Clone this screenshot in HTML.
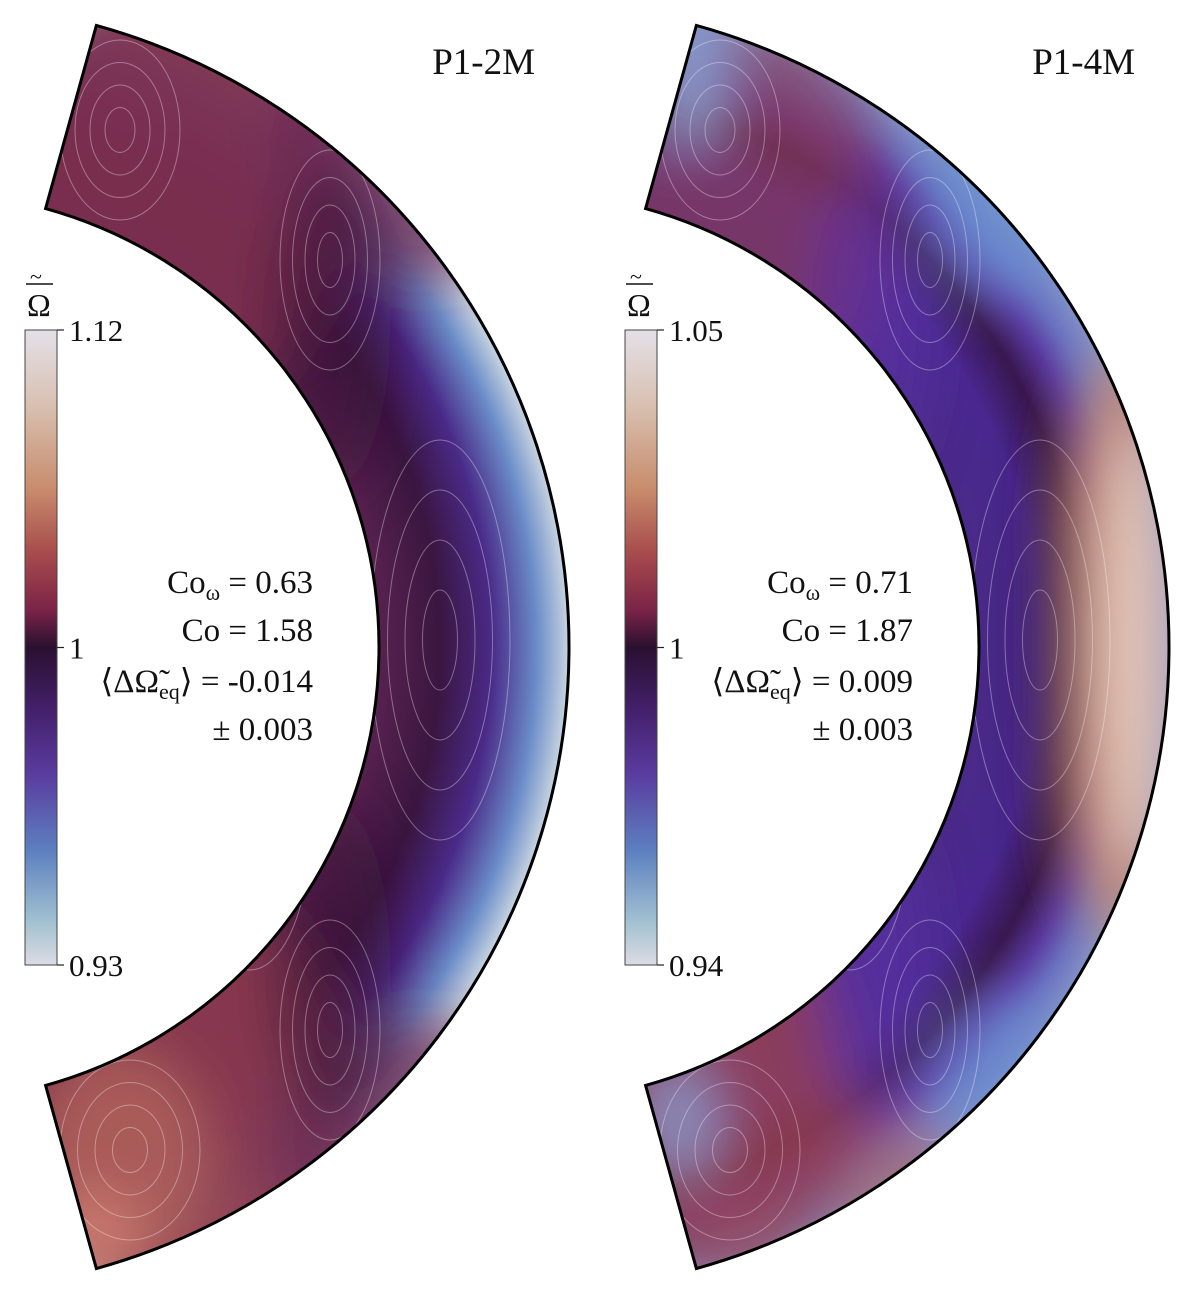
<!DOCTYPE html>
<html><head><meta charset="utf-8"><style>
html,body{margin:0;padding:0;background:#fff;width:1200px;height:1296px;overflow:hidden}
svg{display:block}
text{font-family:"Liberation Serif",serif;fill:#111}
</style></head>
<body>
<svg id="fig" width="1200" height="1296" viewBox="0 0 1200 1296" xmlns="http://www.w3.org/2000/svg">
<defs>
 <linearGradient id="cmap" x1="0" y1="0" x2="0" y2="1">
  <stop offset="0" stop-color="#e4e0e8"/><stop offset="0.12" stop-color="#d8c0b0"/>
  <stop offset="0.25" stop-color="#c88c6c"/><stop offset="0.35" stop-color="#a84c4c"/>
  <stop offset="0.44" stop-color="#7c2448"/><stop offset="0.50" stop-color="#2a1030"/>
  <stop offset="0.60" stop-color="#44206c"/><stop offset="0.70" stop-color="#5a3ca0"/>
  <stop offset="0.82" stop-color="#5c80c0"/><stop offset="0.93" stop-color="#a0c0d0"/>
  <stop offset="1" stop-color="#dcdce4"/>
 </linearGradient>
 <radialGradient id="radL" gradientUnits="userSpaceOnUse" cx="-76" cy="647" r="645">
  <stop offset="0.70" stop-color="#5a2250"/><stop offset="0.80" stop-color="#3a1640"/>
  <stop offset="0.88" stop-color="#4a2a88"/><stop offset="0.95" stop-color="#6a8cc8"/>
  <stop offset="1" stop-color="#c8d4e0"/>
 </radialGradient>
 <radialGradient id="radR" gradientUnits="userSpaceOnUse" cx="524" cy="647" r="645">
  <stop offset="0.70" stop-color="#4a2a88"/><stop offset="0.80" stop-color="#4a2890"/>
  <stop offset="0.87" stop-color="#3a1850"/><stop offset="0.92" stop-color="#5a3aa0"/>
  <stop offset="0.96" stop-color="#6a70c0"/><stop offset="1" stop-color="#8090c8"/>
 </radialGradient>
 <filter id="blur" x="-50%" y="-50%" width="200%" height="200%"><feGaussianBlur stdDeviation="26"/></filter>
 <clipPath id="clipL"><path id="cpL"/></clipPath>
 <clipPath id="clipR"><path id="cpR"/></clipPath>
</defs>
<g id="panels"></g>
</svg>
<script>
// colorbar data
const cbTicksL = [1.12, 1, 0.93];
const cbTicksR = [1.05, 1, 0.94];
const cbRangeL = [0.93, 1.12];
const cbRangeR = [0.94, 1.05];
const statsL = ["0.63", "1.58", "-0.014", "0.003"];
const statsR = ["0.71", "1.87", "0.009", "0.003"];
const titles = ["P1-2M", "P1-4M"];

const NS = "http://www.w3.org/2000/svg";
const root = document.getElementById('panels');
function mk(tag, attrs, parent){const e=document.createElementNS(NS,tag);for(const k in attrs)e.setAttribute(k,attrs[k]);(parent||root).appendChild(e);return e;}

function annulus(cx,cy,ri,ro,th){
 const c=Math.cos(th),s=Math.sin(th);
 const oT=[cx+ro*c,cy-ro*s],oB=[cx+ro*c,cy+ro*s],iT=[cx+ri*c,cy-ri*s],iB=[cx+ri*c,cy+ri*s];
 return `M${iT} L${oT} A${ro} ${ro} 0 0 1 ${oB} L${iB} A${ri} ${ri} 0 0 0 ${iT} Z`;
}

function panel(idx, dx, ticks, range, stats, grad, blobs){
 const cx=-76+dx, cy=647, ri=455, ro=645, th=74.5*Math.PI/180;
 const d=annulus(cx,cy,ri,ro,th);
 document.getElementById(idx?'cpR':'cpL').setAttribute('d',d);
 const g=mk('g',{});
 
 
 const f=mk('path',{d:d,fill:`url(#${grad})`},g);
 
 
 const bg=mk('g',{'clip-path':`url(#${idx?'clipR':'clipL'})`},g);
 const bl=mk('g',{filter:'url(#blur)'},bg);
 blobs.forEach(b=>{const e=mk('ellipse',{cx:b[0]+dx,cy:b[1],rx:b[2],ry:b[3],fill:b[4],opacity:b[5]},bl);
  });
 // streamline texture
 const sl=mk('g',{fill:'none',stroke:'#fff','stroke-width':1,opacity:0.35},bg);
 
 for(let k=0;k<7;k++){
  const e1=[[200,470,60,140],[250,830,60,140],[440,640,70,200],[120,130,60,90],[130,1150,70,90],[330,260,50,110],[330,1030,50,110]][k];
  for(let j=1;j<=4;j++) mk('ellipse',{cx:e1[0]+dx,cy:e1[1],rx:e1[2]*j/4,ry:e1[3]*j/4},sl);
 }
 const bd=mk('path',{d:d,fill:'none',stroke:'#000','stroke-width':3},g);
 
 // colorbar (two-slope norm centred at 1)
 const x0=25+dx, w=32, yT=330, yB=965, yM=(yT+yB)/2;
 const ys=v=> v>=1 ? yM-(v-1)/(range[1]-1)*(yM-yT) : yM+(1-v)/(1-range[0])*(yB-yM);
 const cb=mk('rect',{x:x0,y:yT,width:w,height:yB-yT,fill:'url(#cmap)',stroke:'#444','stroke-width':1},g);
 
 ticks.forEach(v=>{const y=ys(v);
  mk('line',{x1:x0+w,x2:x0+w+7,y1:y,y2:y,stroke:'#222','stroke-width':1.2},g);
  const t=mk('text',{x:x0+w+12,y:y+11,'font-size':31},g);t.textContent=String(v);
  });
 const ot=mk('text',{x:x0+2,y:316,'font-size':32},g);ot.textContent='Ω';
 
 mk('line',{x1:x0+1,x2:x0+28,y1:284,y2:284,stroke:'#111','stroke-width':1.5},g);
 const tl=mk('text',{x:x0+5,y:284,'font-size':22},g);tl.textContent='~';
 // title
 const tt=mk('text',{x:535+dx,y:74,'font-size':37,'text-anchor':'end'},g);tt.textContent=titles[idx];
 
 // stats
 const lines=[['Co',`ω`,` = ${stats[0]}`],['Co','',` = ${stats[1]}`],['⟨ΔΩ̃','eq',`⟩ = ${stats[2]}`],['± ','',stats[3]]];
 [593,641,692,740].forEach((y,i)=>{
  const t=mk('text',{x:313+dx,y:y,'font-size':33,'text-anchor':'end'},g);
  
  const a=mk('tspan',{},t);a.textContent=lines[i][0];
  if(lines[i][1]){const b=mk('tspan',{'font-size':22,dy:7},t);b.textContent=lines[i][1];const c=mk('tspan',{dy:-7},t);c.textContent=lines[i][2];}
  else{const c=mk('tspan',{},t);c.textContent=lines[i][2];}
 });
}
panel(0,0,cbTicksL,cbRangeL,statsL,'radL',[
 [180,180,180,220,'#7c2e50',0.95],[420,150,150,130,'#6a2a58',0.8],
 [180,1110,180,220,'#8a3a50',0.95],[120,1160,90,110,'#b86a5c',0.7],[420,1150,150,130,'#6a2a58',0.8],
 [90,1240,50,50,'#d08070',0.8],[330,330,60,160,'#3a1636',0.6],[330,960,60,160,'#3a1636',0.6]]);
panel(1,600,cbTicksR,cbRangeR,statsR,'radR',[
 [520,647,55,300,'#c88870',0.95],[535,647,35,220,'#e8cfc2',0.9],[455,647,18,260,'#2a1030',0.8],
 [140,220,150,200,'#8a3a5a',0.7],[120,1090,140,190,'#9a4250',0.8],[90,70,40,80,'#8aa0d0',0.9],
 [80,1120,40,60,'#8aa0d0',0.8],[270,330,60,160,'#5a30a8',0.6],[270,960,60,160,'#5a30a8',0.6],
 [400,190,70,110,'#6a90d0',0.7],[400,1100,70,110,'#6a90d0',0.6],[300,1190,60,80,'#b06060',0.6]]);
</script>
</body></html>
